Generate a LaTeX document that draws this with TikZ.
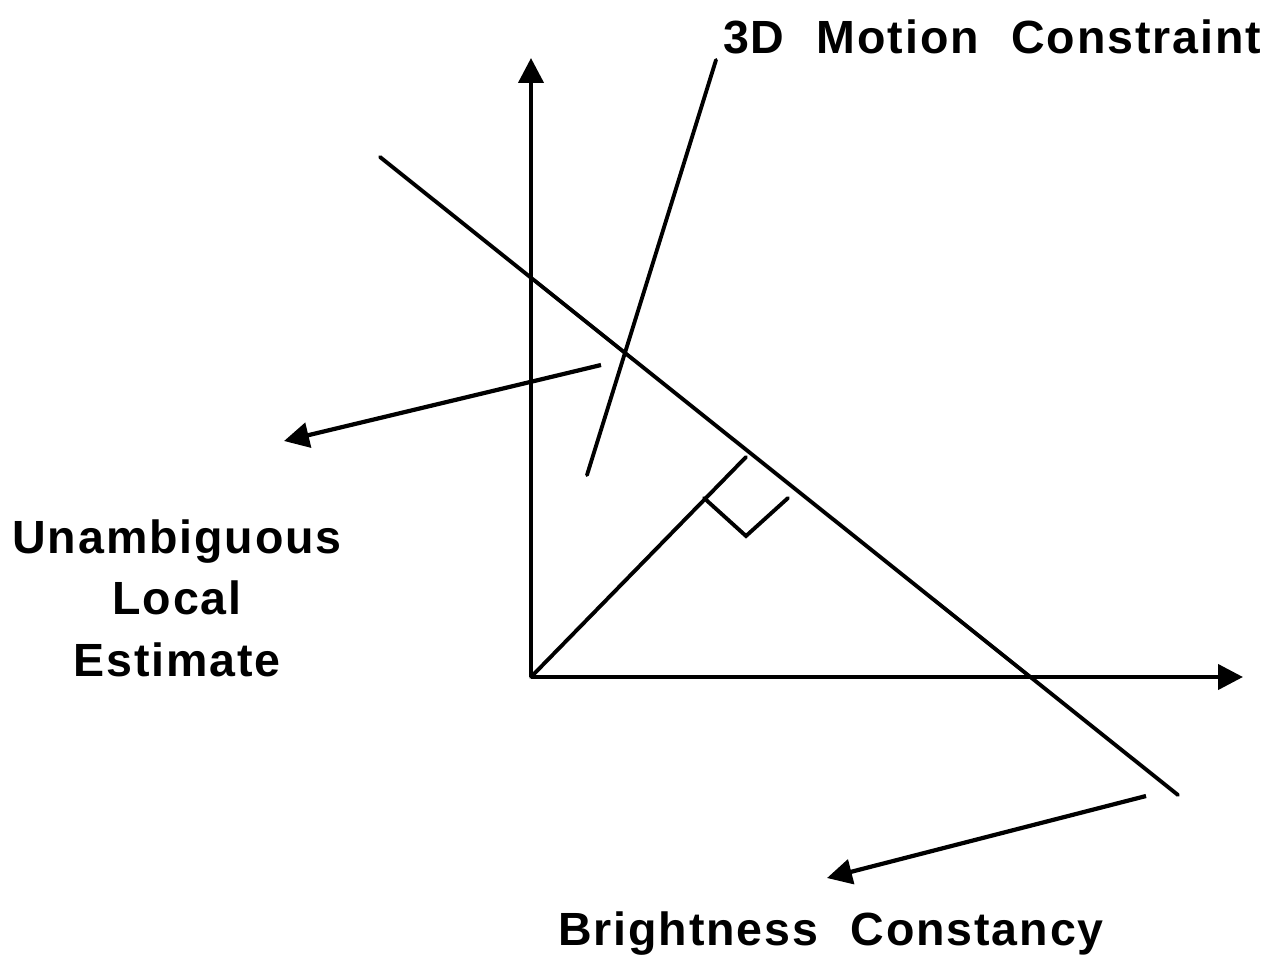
\documentclass[tikz,border=0pt]{standalone}
\usepackage{fontspec}
\setmainfont{Liberation Sans}
\newfontfamily\labelfont[LetterSpace=4, WordSpace=2.2]{Liberation Sans}
\usetikzlibrary{arrows.meta, positioning}
\tikzset{
  plainline/.style={line width=2.2pt, color=black, line cap=round},
  arrow/.style={-{Triangle[length=0.5cm,width=0.5cm]}, line width=2.4pt, color=black},
  caption/.style={font=\labelfont\fontsize{26.5}{35}\selectfont\bfseries, align=center, inner sep=0pt},
}

\begin{document}
\begin{tikzpicture}[x=0.02cm, y=-0.02cm]
\useasboundingbox (0,0) rectangle (1275,964);

%% ─── AXES ────────────────────────────────────────────────────
\coordinate (origin) at (531,677);
\coordinate (ytip) at (531,58);
\coordinate (xtip) at (1243,677);
\draw[arrow] (origin) -- (ytip);
\draw[arrow] (origin) -- (xtip);

%% ─── CONSTRAINT LINES ────────────────────────────────────────
\coordinate (bcstart) at (380,157);
\coordinate (bcend) at (1178,795);
\draw[plainline] (bcstart) -- (bcend);

\coordinate (mcbottom) at (587,475);
\coordinate (mctop) at (716,60);
\draw[plainline] (mcbottom) -- (mctop);

%% ─── NORMAL FLOW + RIGHT ANGLE ───────────────────────────────
\coordinate (foot) at (746,457);
\coordinate (mk1) at (704,498);
\coordinate (mk2) at (746,536);
\coordinate (mk3) at (788,498);
\draw[plainline] (origin) -- (foot);
\draw[plainline] (mk1) -- (mk2) -- (mk3);

%% ─── LABELS ──────────────────────────────────────────────────
\node[caption] (motion) at (992,37) {3D Motion Constraint};
\node[caption] (local) at (177,598)
  {Unambiguous\\Local\\Estimate};
\node[caption] (bright) at (831,934) {Brightness Constancy};

%% ─── POINTER ARROWS ──────────────────────────────────────────
\coordinate (lefrom) at (601,365);
\coordinate (leto) at (284,441);
\draw[arrow] (lefrom) -- (leto);

\coordinate (bcfrom) at (1146,796);
\coordinate (bcto) at (827,878);
\draw[arrow] (bcfrom) -- (bcto);

\end{tikzpicture}
\end{document}
